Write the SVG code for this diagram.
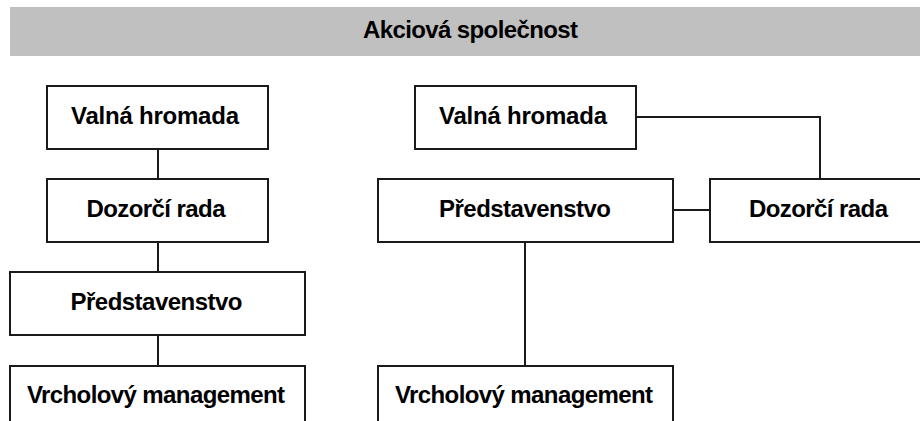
<svg xmlns="http://www.w3.org/2000/svg" width="920" height="421" viewBox="0 0 920 421">
<style>
.box{fill:#fff;stroke:#1a1a1a;stroke-width:2}
.lbl{font-family:"Liberation Sans",Arial,sans-serif;font-weight:bold;font-size:24px;fill:#000;text-anchor:middle}
.con{stroke:#1a1a1a;stroke-width:2;fill:none}
</style>
<rect x="0" y="0" width="920" height="421" fill="#fff"/>
<g id="header">
<rect x="10" y="7" width="920" height="49" fill="#c0c0c0"/>
<text class="lbl" x="470.5" y="38" textLength="215">Akciová společnost</text>
</g>
<g id="connectors">
<path class="con" d="M158 149V179M158 242V272M158 335V366"/>
<path class="con" d="M636 117H820V179M673 210H710M525 242V366"/>
</g>
<g id="l-valna"><rect class="box" x="47" y="86" width="221" height="63"/><text class="lbl" x="155" y="124" textLength="168">Valná hromada</text></g>
<g id="l-dozorci"><rect class="box" x="47" y="179" width="221" height="63"/><text class="lbl" x="156" y="217" textLength="139">Dozorčí rada</text></g>
<g id="l-predst"><rect class="box" x="10" y="272" width="295" height="63"/><text class="lbl" x="156.5" y="310" textLength="172">Představenstvo</text></g>
<g id="l-vrchol"><rect class="box" x="10" y="366" width="295" height="63"/><text class="lbl" x="156" y="403" textLength="258">Vrcholový management</text></g>
<g id="r-valna"><rect class="box" x="415" y="86" width="221" height="63"/><text class="lbl" x="523" y="124" textLength="168">Valná hromada</text></g>
<g id="r-predst"><rect class="box" x="378" y="179" width="295" height="63"/><text class="lbl" x="525" y="217" textLength="172">Představenstvo</text></g>
<g id="r-dozorci"><rect class="box" x="710" y="179" width="220" height="63"/><text class="lbl" x="818.5" y="217" textLength="139">Dozorčí rada</text></g>
<g id="r-vrchol"><rect class="box" x="378" y="366" width="295" height="63"/><text class="lbl" x="524" y="403" textLength="258">Vrcholový management</text></g>
</svg>
